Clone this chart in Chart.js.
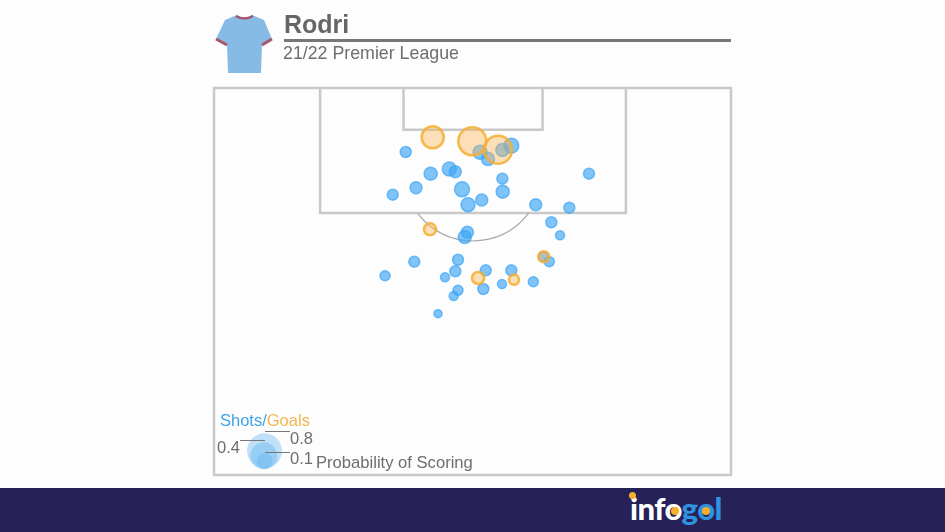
<!DOCTYPE html>
<html>
<head>
<meta charset="utf-8">
<title>Rodri 21/22 Premier League</title>
<script src="https://cdn.jsdelivr.net/npm/chart.js@4"></script>
<style>
    html, body { margin: 0; padding: 0; background: #fdfdfd; overflow: hidden; }
    body { width: 945px; height: 532px; position: relative; font-family: "Liberation Sans", sans-serif; color: #6e6e6e; }
    #wrap { position: absolute; left: 0; top: 0; width: 945px; height: 532px; }
    .txt { position: absolute; white-space: nowrap; line-height: 1; }
    .rule { position: absolute; background: #777; }
    #footer { position: absolute; left: 0; top: 488px; width: 945px; height: 44px; background: #262158; }
    .dot { position: absolute; border-radius: 50%; background: #f5b02e; }
</style>
</head>
<body>
<div id="wrap"><canvas id="shots" width="945" height="532"></canvas></div>

<svg style="position:absolute;left:0;top:0" width="300" height="85">
    <path d="M237 15 L225 20 L216 39 L227 45 L228 73 L261 73 L262 45 L272 39 L264 20 L252 15 Q244 20 237 15 Z" fill="#85bbe4"/>
    <path d="M236 16 Q244 21 253 16" fill="none" stroke="#a8566e" stroke-width="2.5"/>
    <path d="M216 39 L227 45 M262 45 L272 39" stroke="#a8566e" stroke-width="3"/>
</svg>

<div class="txt" style="left:284px;top:12px;font-size:25px;font-weight:bold;color:#666">Rodri</div>
<div class="rule" style="left:284px;top:39px;width:447px;height:2.5px"></div>
<div class="txt" style="left:283px;top:45px;font-size:17.8px">21/22 Premier League</div>

<div class="txt" style="left:220px;top:412px;font-size:16.5px"><span style="color:#3fa2e6">Shots/</span><span style="color:#f4b550">Goals</span></div>
<div class="txt" style="left:217px;top:439px;font-size:16.5px">0.4</div>
<div class="txt" style="left:290px;top:430px;font-size:16.5px">0.8</div>
<div class="txt" style="left:290px;top:450px;font-size:16.5px">0.1</div>
<div class="txt" style="left:316px;top:455px;font-size:16.6px">Probability of Scoring</div>
<div class="rule" style="left:265px;top:431px;width:25px;height:1px"></div>
<div class="rule" style="left:240px;top:440px;width:25px;height:1px"></div>
<div class="rule" style="left:265px;top:452px;width:25px;height:1px"></div>

<div id="footer"></div>
<div class="txt" style="left:630px;top:493px;font-family:Lato,sans-serif;font-weight:900;font-size:31px;letter-spacing:-0.6px"><span style="color:#fff">info</span><span style="color:#2f94e0">gol</span></div>
<div class="dot" style="left:629px;top:492px;width:7px;height:7px"></div>
<div class="dot" style="left:671px;top:507px;width:8px;height:8px"></div>
<div class="dot" style="left:702px;top:507px;width:8px;height:8px"></div>

<script>
const shotX = [-9.68, -6.09, -8.2, -11.55, -3.41, -2.55, -1.58, -0.72, 1.25, 4.22, 4.27, 9.02, 13.86, 16.69, 5.51, 1.01, 2.16, 4.22,
    11.27, 12.52, -0.82, -1.19, -2.16, -8.45, -12.66, -2.55, -4.03, 1.83, 5.51, 4.17, 8.68, 1.48, -2.16, -2.78, -5.04, 10.98, 10.17];
const shotY = [9.21, 12.33, 14.35, 15.35, 11.65, 12.04, 14.58, 16.79, 16.12, 13.05, 14.92, 16.79, 17.22, 12.33, 8.3, 9.25, 10.22, 8.92,
    19.32, 21.19, 20.76, 21.44, 24.71, 24.99, 27.01, 26.37, 27.24, 26.23, 26.23, 28.2, 27.87, 28.92, 29.11, 29.93, 32.47, 24.99, 24.27];
const shotXg = [0.037, 0.058, 0.047, 0.037, 0.07, 0.047, 0.084, 0.07, 0.047, 0.037, 0.058, 0.047, 0.037, 0.037, 0.084, 0.07, 0.058, 0.058,
    0.037, 0.022, 0.047, 0.058, 0.037, 0.037, 0.029, 0.037, 0.022, 0.037, 0.037, 0.022, 0.029, 0.037, 0.029, 0.022, 0.016, 0.029, 0.029];

const goalX = [-5.80, -0.10, 3.60, -6.19, 0.72, 5.90, 10.17];
const goalY = [7.09, 7.67, 8.88, 20.33, 27.34, 27.58, 24.27];
const goalXg = [0.234, 0.444, 0.444, 0.047, 0.047, 0.029, 0.037];

const legendX = [-30, -30.1, -30];
const legendY = [52.2, 52.9, 53.7];
const legendXg = [0.8, 0.4, 0.1];

// pitch markings, in yards
const boxHalfWidth = 22;
const boxDepth = 18;
const sixHalfWidth = 10;
const sixDepth = 6;
const penaltySpot = 12;
const arcRadius = 10;

function toBubbles(xs, ys, xgs) {
    return xs.map((x, i) => ({ x: x, y: ys[i], r: 19 * Math.pow(xgs[i], 0.376) }));
}

const pitch = {
    id: "pitch",
    beforeDatasetsDraw(chart) {
        const ctx = chart.ctx;
        const sx = chart.scales.x;
        const sy = chart.scales.y;
        ctx.save();
        ctx.strokeStyle = "#c9c9c9";
        ctx.lineWidth = 2.5;
        ctx.strokeRect(sx.left, sy.top, sx.right - sx.left, sy.bottom - sy.top);
        [[boxHalfWidth, boxDepth], [sixHalfWidth, sixDepth]].forEach(([w, d]) => {
            ctx.beginPath();
            ctx.moveTo(sx.getPixelForValue(-w), sy.getPixelForValue(0));
            ctx.lineTo(sx.getPixelForValue(-w), sy.getPixelForValue(d));
            ctx.lineTo(sx.getPixelForValue(w), sy.getPixelForValue(d));
            ctx.lineTo(sx.getPixelForValue(w), sy.getPixelForValue(0));
            ctx.stroke();
        });
        // the D
        const cx = sx.getPixelForValue(0);
        const cy = sy.getPixelForValue(penaltySpot);
        const rad = sy.getPixelForValue(penaltySpot + arcRadius) - cy;
        const start = Math.asin((boxDepth - penaltySpot) / arcRadius);
        ctx.strokeStyle = "#a8a8a8";
        ctx.lineWidth = 1.2;
        ctx.beginPath();
        ctx.arc(cx, cy, rad, start, Math.PI - start);
        ctx.stroke();
        ctx.restore();
    },
};

// the first dataset is painted last, so goals sit over shots
new Chart(document.getElementById("shots"), {
    type: "bubble",
    plugins: [pitch],
    data: {
        datasets: [
            {
                label: "Goals",
                data: toBubbles(goalX, goalY, goalXg),
                backgroundColor: "rgba(250,180,85,0.42)",
                borderColor: "rgba(243,175,50,0.85)",
                borderWidth: 2.6,
            },
            {
                label: "Shots",
                data: toBubbles(shotX, shotY, shotXg),
                backgroundColor: "rgba(60,165,245,0.65)",
                borderColor: "rgba(60,165,245,0.7)",
                borderWidth: 1.5,
            },
            {
                label: "Legend",
                data: toBubbles(legendX, legendY, legendXg),
                backgroundColor: "rgba(90,175,240,0.38)",
                borderWidth: 0,
            },
        ],
    },
    options: {
        responsive: false,
        animation: false,
        layout: { padding: { left: 214, right: 214, top: 88, bottom: 57 } },
        plugins: { legend: { display: false }, tooltip: { enabled: false } },
        scales: {
            x: { type: "linear", min: -37.27, max: 37.12, display: false },
            y: { type: "linear", min: 0, max: 55.68, reverse: true, display: false },
        },
    },
});
</script>
</body>
</html>
